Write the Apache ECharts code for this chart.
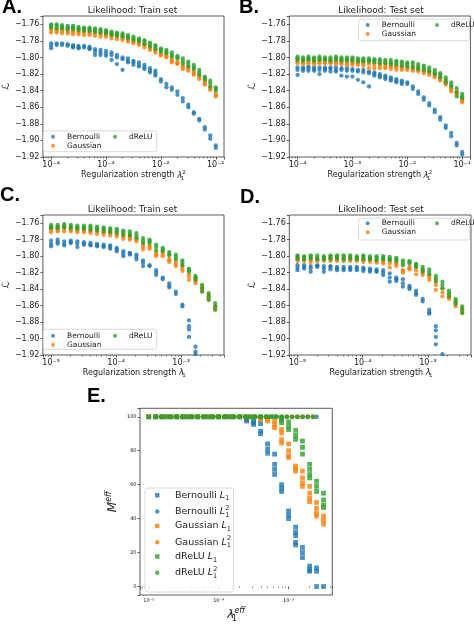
<!DOCTYPE html>
<html><head><meta charset="utf-8">
<script src="https://cdn.jsdelivr.net/npm/echarts@6/dist/echarts.min.js"></script>
<style>html,body{margin:0;padding:0;background:#fff}#c{width:474px;height:624px}</style>
</head><body><div id="c"></div>
<script>
// ---------------- DATA ----------------
// lambda_1^2 grid (panels A, B)
const xAB = [1.00e-4,1.26e-4,1.58e-4,2.00e-4,2.51e-4,3.16e-4,3.98e-4,5.01e-4,6.31e-4,7.94e-4,
  1.00e-3,1.26e-3,1.58e-3,2.00e-3,2.51e-3,3.16e-3,3.98e-3,5.01e-3,6.31e-3,7.94e-3,
  1.00e-2,1.26e-2,1.58e-2,2.00e-2,2.51e-2,3.16e-2,3.98e-2,5.01e-2,6.31e-2,7.94e-2,1.00e-1];
// lambda_1 grid (panels C, D)
const xCD = [1.000e-5,1.262e-5,1.592e-5,2.009e-5,2.535e-5,3.199e-5,4.036e-5,5.093e-5,6.427e-5,8.110e-5,
  1.023e-4,1.291e-4,1.629e-4,2.056e-4,2.594e-4,3.273e-4,4.130e-4,5.212e-4,6.577e-4,8.299e-4,
  1.047e-3,1.321e-3,1.667e-3,2.104e-3,2.655e-3,3.350e-3];
// lambda_1^eff grids (panel E)
const xE_L1 = [1.00e-5,1.26e-5,1.58e-5,2.00e-5,2.51e-5,3.16e-5,3.98e-5,5.01e-5,6.31e-5,7.94e-5,
  1.00e-4,1.26e-4,1.58e-4,2.00e-4,2.51e-4,3.16e-4,3.98e-4,5.01e-4,6.31e-4,7.94e-4,
  1.00e-3,1.26e-3,1.58e-3,2.00e-3,2.51e-3,3.16e-3];
const xE_L2 = [1.259e-5,1.496e-5,1.778e-5,2.113e-5,2.512e-5,2.985e-5,3.548e-5,4.217e-5,5.012e-5,5.957e-5,
  7.079e-5,8.414e-5,1.000e-4,1.189e-4,1.413e-4,1.679e-4,1.995e-4,2.371e-4,2.818e-4,3.350e-4,
  3.981e-4,4.732e-4,5.623e-4,6.683e-4,7.943e-4,9.441e-4,1.122e-3,1.334e-3,1.585e-3,1.884e-3,2.239e-3];
const xE_L2_bern = [1.259e-5,1.496e-5,1.778e-5,2.113e-5,2.512e-5,2.985e-5,3.548e-5,4.217e-5,5.012e-5,5.957e-5,
  7.079e-5,8.414e-5,1.000e-4,1.189e-4,1.413e-4,1.679e-4,1.995e-4,2.371e-4,2.818e-4,3.350e-4,
  3.981e-4,4.732e-4,5.623e-4,6.683e-4,7.943e-4,9.441e-4,1.122e-3,1.334e-3,1.585e-3,1.884e-3,2.239e-3,2.512e-3];

// Panel A (train, lambda_1^2): repeated runs per grid point
const A_bernoulli = [[-1.783,-1.786,-1.789],[-1.783,-1.785],[-1.783,-1.785],[-1.784,-1.786],[-1.785,-1.787,-1.788],
  [-1.786,-1.788,-1.789],[-1.786,-1.788],[-1.787,-1.789,-1.790],[-1.790,-1.793,-1.797],[-1.791,-1.794,-1.797],
  [-1.792,-1.795,-1.798],[-1.794,-1.797,-1.803],[-1.797,-1.800,-1.808],[-1.800,-1.802,-1.815],[-1.801,-1.804,-1.806],
  [-1.804,-1.806,-1.809],[-1.806,-1.809,-1.811],[-1.809,-1.812,-1.814],[-1.813,-1.816,-1.818],[-1.816,-1.819,-1.822],
  [-1.826,-1.829],[-1.832,-1.836],[-1.836,-1.839],[-1.841,-1.845],[-1.849,-1.853],[-1.857,-1.860],[-1.866,-1.868],
  [-1.874,-1.876],[-1.884,-1.887],[-1.894,-1.898],[-1.906,-1.909]];
const A_gaussian = [[-1.765,-1.767,-1.770],[-1.766,-1.768,-1.770],[-1.766,-1.768,-1.771],[-1.767,-1.769,-1.771],[-1.767,-1.769,-1.772],
  [-1.768,-1.770,-1.772],[-1.768,-1.770,-1.773],[-1.769,-1.771,-1.773],[-1.769,-1.771,-1.774],[-1.770,-1.772,-1.775],
  [-1.771,-1.773,-1.775],[-1.772,-1.774,-1.777],[-1.773,-1.775,-1.778],[-1.775,-1.777,-1.779],[-1.777,-1.779,-1.781],
  [-1.779,-1.781,-1.783],[-1.781,-1.783,-1.785],[-1.783,-1.785,-1.788],[-1.787,-1.789,-1.791],[-1.790,-1.792,-1.794],
  [-1.795,-1.796,-1.798],[-1.797,-1.799,-1.800],[-1.802,-1.804,-1.806],[-1.805,-1.807,-1.808],[-1.810,-1.812,-1.814],
  [-1.811,-1.814,-1.816],[-1.817,-1.819,-1.821],[-1.822,-1.824,-1.826],[-1.829,-1.831,-1.833],[-1.836,-1.838,-1.839],
  [-1.844,-1.846,-1.847]];
const A_drelu = [[-1.760,-1.762,-1.764],[-1.760,-1.762,-1.765],[-1.761,-1.763,-1.765],[-1.762,-1.764,-1.766],[-1.762,-1.764,-1.766],
  [-1.763,-1.765,-1.767],[-1.764,-1.766,-1.768],[-1.764,-1.766,-1.768],[-1.765,-1.767,-1.769],[-1.766,-1.768,-1.770],
  [-1.767,-1.769,-1.771],[-1.769,-1.771,-1.773],[-1.770,-1.772,-1.774],[-1.771,-1.773,-1.775],[-1.773,-1.775,-1.777],
  [-1.775,-1.777,-1.779],[-1.777,-1.779,-1.781],[-1.779,-1.781,-1.784],[-1.782,-1.784,-1.787],[-1.785,-1.787,-1.790],
  [-1.789,-1.791,-1.793],[-1.791,-1.793,-1.795],[-1.794,-1.797,-1.799],[-1.798,-1.800,-1.801],[-1.801,-1.804,-1.807],
  [-1.805,-1.808,-1.811],[-1.809,-1.812,-1.814],[-1.815,-1.818,-1.821],[-1.823,-1.825,-1.827],[-1.828,-1.831,-1.835],
  [-1.836,-1.838,-1.840]];

// Panel B (test, lambda_1^2)
const B_bernoulli = [[-1.812,-1.815,-1.821],[-1.812,-1.814,-1.816],[-1.811,-1.813,-1.816],[-1.812,-1.814,-1.816],[-1.812,-1.815,-1.820],
  [-1.812,-1.814,-1.816],[-1.812,-1.814,-1.817],[-1.812,-1.815,-1.817],[-1.813,-1.815,-1.822],[-1.813,-1.816,-1.823],
  [-1.814,-1.816,-1.823],[-1.815,-1.817,-1.827],[-1.815,-1.818,-1.830],[-1.817,-1.819,-1.835],[-1.818,-1.820,-1.822],
  [-1.820,-1.822,-1.824],[-1.822,-1.824,-1.826],[-1.824,-1.826,-1.828],[-1.826,-1.828,-1.830],[-1.828,-1.830,-1.832],
  [-1.830,-1.832],[-1.835,-1.838],[-1.841,-1.844],[-1.848,-1.851],[-1.855,-1.858],[-1.863,-1.866],[-1.872,-1.875],
  [-1.882,-1.885],[-1.891,-1.895],[-1.903,-1.906],[-1.914,-1.917]];
const B_gaussian = [[-1.803,-1.805,-1.807],[-1.804,-1.806,-1.808],[-1.803,-1.805,-1.807],[-1.804,-1.806,-1.808],[-1.803,-1.805,-1.807],
  [-1.803,-1.805,-1.807],[-1.804,-1.806,-1.807],[-1.804,-1.806,-1.808],[-1.804,-1.806,-1.808],[-1.804,-1.806,-1.809],
  [-1.805,-1.807,-1.809],[-1.805,-1.807,-1.809],[-1.805,-1.807,-1.810],[-1.805,-1.808,-1.813],[-1.806,-1.809,-1.813],
  [-1.807,-1.810,-1.813],[-1.808,-1.811,-1.813],[-1.809,-1.811,-1.814],[-1.810,-1.812,-1.815],[-1.811,-1.813,-1.815],
  [-1.811,-1.813,-1.815],[-1.812,-1.814,-1.816],[-1.813,-1.815,-1.817],[-1.815,-1.817,-1.819],[-1.817,-1.819,-1.821],
  [-1.820,-1.822,-1.824],[-1.824,-1.826,-1.828],[-1.829,-1.831,-1.833],[-1.837,-1.839,-1.841],[-1.841,-1.843,-1.845],
  [-1.850,-1.852,-1.854]];
const B_drelu = [[-1.799,-1.801,-1.803],[-1.800,-1.802,-1.804],[-1.799,-1.801,-1.803],[-1.800,-1.802,-1.804],[-1.799,-1.801,-1.803],
  [-1.800,-1.802,-1.803],[-1.800,-1.802,-1.804],[-1.799,-1.801,-1.803],[-1.800,-1.802,-1.804],[-1.800,-1.802,-1.804],
  [-1.800,-1.802,-1.804],[-1.801,-1.803,-1.805],[-1.801,-1.803,-1.805],[-1.801,-1.803,-1.805],[-1.802,-1.804,-1.806],
  [-1.802,-1.804,-1.807],[-1.803,-1.805,-1.807],[-1.803,-1.806,-1.808],[-1.804,-1.806,-1.809],[-1.805,-1.807,-1.810],
  [-1.806,-1.808,-1.811],[-1.806,-1.809,-1.812],[-1.808,-1.811,-1.814],[-1.810,-1.812,-1.815],[-1.812,-1.815,-1.817],
  [-1.815,-1.818,-1.820],[-1.819,-1.821,-1.824],[-1.824,-1.827,-1.830],[-1.830,-1.833,-1.835],[-1.837,-1.842,-1.847],
  [-1.844,-1.847,-1.849]];

// Panel C (train, lambda_1)
const C_bernoulli = [[-1.781,-1.785,-1.788],[-1.780,-1.783,-1.785],[-1.782,-1.785,-1.787],[-1.781,-1.783,-1.784],[-1.782,-1.785,-1.789],
  [-1.783,-1.785,-1.786],[-1.784,-1.786,-1.787],[-1.785,-1.787,-1.788],[-1.786,-1.788,-1.789],[-1.787,-1.789,-1.791],
  [-1.790,-1.792,-1.794],[-1.794,-1.797,-1.800],[-1.796,-1.797,-1.798],[-1.798,-1.801,-1.804],[-1.805,-1.808,-1.812],
  [-1.811,-1.812],[-1.817,-1.820,-1.823],[-1.826,-1.828],[-1.833,-1.836,-1.838],[-1.843,-1.846],[-1.859,-1.861],
  [-1.878,-1.885,-1.889,-1.898],[-1.910,-1.916,-1.919]];
const C_gaussian = [[-1.766,-1.768,-1.771],[-1.766,-1.768,-1.770],[-1.765,-1.767,-1.770],[-1.766,-1.768,-1.770],[-1.767,-1.769,-1.771],
  [-1.767,-1.769,-1.771],[-1.768,-1.770,-1.772],[-1.768,-1.770,-1.773],[-1.769,-1.771,-1.774],[-1.770,-1.772,-1.775],
  [-1.771,-1.774,-1.776],[-1.774,-1.776,-1.779],[-1.776,-1.778,-1.780],[-1.778,-1.780,-1.782],[-1.786,-1.789,-1.792],
  [-1.787,-1.789,-1.791],[-1.796,-1.798,-1.800],[-1.796,-1.798,-1.800],[-1.803,-1.805,-1.807],[-1.807,-1.810,-1.812],
  [-1.812,-1.815,-1.818],[-1.822,-1.825,-1.829],[-1.827,-1.830,-1.833],[-1.837,-1.840,-1.843],[-1.847,-1.850,-1.853],
  [-1.860,-1.862,-1.865]];
const C_drelu = [[-1.762,-1.764,-1.766],[-1.762,-1.764,-1.766],[-1.761,-1.763,-1.765],[-1.762,-1.764,-1.766],[-1.763,-1.765,-1.767],
  [-1.763,-1.765,-1.767],[-1.763,-1.765,-1.768],[-1.764,-1.766,-1.769],[-1.765,-1.767,-1.770],[-1.766,-1.768,-1.771],
  [-1.767,-1.769,-1.772],[-1.769,-1.771,-1.774],[-1.770,-1.773,-1.775],[-1.772,-1.775,-1.778],[-1.778,-1.781,-1.784],
  [-1.780,-1.782,-1.784],[-1.786,-1.789,-1.793],[-1.790,-1.792,-1.794],[-1.795,-1.797,-1.799],[-1.798,-1.801,-1.804],
  [-1.805,-1.808,-1.811],[-1.815,-1.817,-1.819],[-1.824,-1.826,-1.829],[-1.835,-1.839,-1.843],[-1.845,-1.849,-1.853],
  [-1.857,-1.861,-1.865]];

// Panel D (test, lambda_1)
const D_bernoulli = [[-1.811,-1.814,-1.817],[-1.811,-1.813,-1.815],[-1.812,-1.815,-1.819],[-1.811,-1.812,-1.813],[-1.812,-1.815,-1.819],
  [-1.812,-1.813,-1.816],[-1.813,-1.815,-1.817],[-1.813,-1.815,-1.817],[-1.813,-1.815,-1.817],[-1.813,-1.815,-1.817],
  [-1.814,-1.816,-1.818],[-1.815,-1.817,-1.819],[-1.816,-1.818,-1.819],[-1.817,-1.820,-1.823],[-1.821,-1.826,-1.831],
  [-1.826,-1.828,-1.830],[-1.828,-1.833,-1.837],[-1.836,-1.838,-1.840],[-1.842,-1.845,-1.847],[-1.852,-1.855],
  [-1.865,-1.868,-1.870],[-1.885,-1.890,-1.898,-1.907],[-1.919]];
const D_gaussian = [[-1.802,-1.804,-1.806],[-1.802,-1.804,-1.806],[-1.803,-1.805,-1.808],[-1.802,-1.804,-1.806],[-1.802,-1.804,-1.806],
  [-1.802,-1.804,-1.806],[-1.802,-1.804,-1.806],[-1.802,-1.804,-1.806],[-1.802,-1.804,-1.806],[-1.802,-1.804,-1.806],
  [-1.803,-1.805,-1.807],[-1.803,-1.805,-1.807],[-1.804,-1.806,-1.808],[-1.805,-1.807,-1.809],[-1.806,-1.809,-1.814],
  [-1.808,-1.810,-1.812],[-1.817,-1.818,-1.820],[-1.813,-1.815,-1.816],[-1.813,-1.817,-1.822],[-1.817,-1.820,-1.823],
  [-1.823,-1.826,-1.829],[-1.829,-1.835,-1.841],[-1.839,-1.844,-1.849],[-1.847,-1.850,-1.852],[-1.855,-1.858,-1.861],
  [-1.863,-1.866,-1.869]];
const D_drelu = [[-1.799,-1.801,-1.803],[-1.800,-1.802,-1.804],[-1.799,-1.801,-1.803],[-1.799,-1.802,-1.804],[-1.800,-1.802,-1.804],
  [-1.799,-1.801,-1.803],[-1.799,-1.801,-1.803],[-1.799,-1.801,-1.804],[-1.799,-1.801,-1.803],[-1.800,-1.802,-1.804],
  [-1.799,-1.801,-1.804],[-1.800,-1.802,-1.804],[-1.800,-1.802,-1.805],[-1.800,-1.802,-1.804],[-1.801,-1.803,-1.805],
  [-1.802,-1.804,-1.806],[-1.805,-1.808,-1.811],[-1.806,-1.807,-1.809],[-1.809,-1.811,-1.813],[-1.813,-1.816,-1.819],
  [-1.816,-1.819,-1.822],[-1.824,-1.827,-1.831],[-1.831,-1.835,-1.839],[-1.842,-1.845,-1.849],[-1.852,-1.855,-1.858],
  [-1.861,-1.865,-1.869]];

// Panel E: effective number of hidden units
const E_bernoulli_L1 = [[100],[100],[100],[100],[100],[100],[100],[100],[100],[100],[100],[100],[100],[100],
  [98.5,97.5],[97.5,96.5,95.5],[96,91.5,90],[84,81,78.5],[78,72,69,66],[60,58,56],[44.5,42,40],
  [35,32,30,26,24.5],[23,20,17],[12,10,9],[11,9,0],[0]];
const E_gaussian_L1 = [[100],[100],[100],[100],[100],[100],[100],[100],[100],[100],[100],[100],[100],[100],[100],[100],
  [99.4,98.4],[99,97.5],[97.5,95.5,93.5],[92.5,90.5,86.5,84.5],[84,80,77,76],[71,69.5,68],[68,64,61,59],
  [59,55,52,50],[49.5,46,43,41.5],[41.5,39,36.7]];
const E_drelu_L1 = [[100],[100],[100],[100],[100],[100],[100],[100],[100],[100],[100],[100],[100],[100],[100],[100],
  [100],[100],[100],[99.4,98,96.5],[97,94.5,92.5],[92,89,86.7],[85.7,82,78],[72,69,66,64],[62,59,56],[55,51,48,46.5]];
const E_bernoulli_L2 = [100,100,100,100,100,100,100,100,100,100,100,100,100,100,100,100,
  100,100,100,100,100,100,100,100,100,100,100,100,100,100,100,100];
const E_gaussian_L2 = [100,100,100,100,100,100,100,100,100,100,100,100,100,100,100,100,
  100,100,100,100,100,100,100,100,100,100,100,100,100,100,100];
const E_drelu_L2 = [100,100,100,100,100,100,100,100,100,100,100,100,100,100,100,100,
  100,100,100,100,100,100,100,100,100,100,100,100,100,100,100];

// ---------------- CHART ----------------
const FONT = 'DejaVu Sans';
const TXT = '#222';
const COL = {Bernoulli: '#1f77b4', Gaussian: '#ff7f0e', dReLU: '#2ca02c'};

function flatGroups(xs, groups) {
  const out = [];
  groups.forEach((g, k) => g.forEach(v => out.push([xs[k], v])));
  return out;
}
function pairs(xs, ys) { return ys.map((v, k) => [xs[k], v]); }

const supMap = {'-':'⁻','0':'⁰','1':'¹','2':'²','3':'³','4':'⁴','5':'⁵','6':'⁶','7':'⁷','8':'⁸','9':'⁹'};
function supStr(n) { return String(n).split('').map(c => supMap[c]).join(''); }
function logFmt(v) {
  const e = Math.log10(v), r = Math.round(e);
  if (Math.abs(e - r) > 1e-6) return '';
  return '10' + supStr(r);
}
function yFmt(v) {
  const r = Math.round(v * 50);
  if (Math.abs(v * 50 - r) > 1e-6) return '';
  return (r / 50).toFixed(2).replace('-', '\u2212');
}
function eFmt(v) {
  if (Math.abs(v / 20 - Math.round(v / 20)) > 1e-6) return '';
  return String(Math.round(v));
}

const richAxis = {
  n:  {fontSize: 8, fontFamily: FONT, color: TXT, lineHeight: 12},
  it: {fontSize: 8.5, fontFamily: FONT, fontStyle: 'italic', color: TXT, lineHeight: 12},
  sb: {fontSize: 5.5, fontFamily: FONT, color: TXT, verticalAlign: 'bottom', lineHeight: 6, width: 0.1},
  sp: {fontSize: 5.5, fontFamily: FONT, color: TXT, verticalAlign: 'top', lineHeight: 6}
};
const richE = {
  it: {fontSize: 12, fontFamily: FONT, fontStyle: 'italic', color: TXT, lineHeight: 16},
  sb: {fontSize: 8, fontFamily: FONT, color: TXT, verticalAlign: 'bottom', lineHeight: 8, width: 0.1},
  sp: {fontSize: 8, fontFamily: FONT, fontStyle: 'italic', color: TXT, verticalAlign: 'top', lineHeight: 8}
};

const grids = [
  {left: 41, top: 16, width: 183, height: 141},
  {left: 289.3, top: 16, width: 183.5, height: 141},
  {left: 41, top: 215, width: 183, height: 140},
  {left: 289.3, top: 215, width: 183.5, height: 140},
  {left: 140, top: 408.3, width: 192.3, height: 187.7}
].map(g => Object.assign(g, {show: true, borderColor: '#333', borderWidth: 0.8, backgroundColor: '#fff'}));

const tickStyle = {show: true, length: 2.5, lineStyle: {color: '#333', width: 0.8}};
const minorStyle = {show: true, splitNumber: 9, length: 1.5, lineStyle: {color: '#333', width: 0.6}};

function xLog(i, lo, hi, name, fs, gap, rich) {
  return {
    type: 'log', logBase: 10, gridIndex: i, min: Math.pow(10, lo), max: Math.pow(10, hi),
    axisLine: {show: false}, axisTick: tickStyle, minorTick: minorStyle, splitLine: {show: false},
    axisLabel: {formatter: logFmt, fontSize: fs, fontFamily: FONT, color: TXT, margin: 3.5, showMinLabel: true, showMaxLabel: true},
    name: name, nameLocation: 'middle', nameGap: gap, nameTextStyle: {rich: rich}
  };
}
function yLik(i) {
  return {
    type: 'value', gridIndex: i, min: -1.92, max: -1.75, interval: 0.02,
    axisLine: {show: false}, axisTick: tickStyle, splitLine: {show: false},
    axisLabel: {formatter: yFmt, fontSize: 8, fontFamily: FONT, color: TXT, margin: 3.5},
    name: '\u2112', nameLocation: 'middle', nameGap: 26,
    nameTextStyle: {fontSize: 10, fontFamily: FONT, color: TXT}
  };
}

const lamSq = '{n|Regularization strength }{it|\u03bb}{sb|1}{sp|2}';
const lam1 = '{n|Regularization strength }{it|\u03bb}{sb|1}';

const xAxes = [
  xLog(0, -4.15, -0.85, lamSq, 8, 12, richAxis),
  xLog(1, -4.15, -0.85, lamSq, 8, 12, richAxis),
  xLog(2, -5.126, -2.34, lam1, 8, 12, richAxis),
  xLog(3, -5.126, -2.34, lam1, 8, 12, richAxis),
  xLog(4, -5.125, -2.375, '{it|\u03bb}{sb|1}{sp|eff}', 5, 12, richE)
];
const yAxes = [yLik(0), yLik(1), yLik(2), yLik(3), {
  type: 'value', gridIndex: 4, min: -5, max: 105, splitNumber: 5,
  axisLine: {show: false}, axisTick: tickStyle, splitLine: {show: false},
  axisLabel: {formatter: eFmt, fontSize: 5, fontFamily: FONT, color: TXT, margin: 3.5},
  name: '{it|M}{sp|eff}', nameLocation: 'middle', nameGap: 19, nameTextStyle: {rich: richE}
}];

const series = [];
function addPanel(i, xs, b, g, d) {
  [['Bernoulli', b], ['Gaussian', g], ['dReLU', d]].forEach(([nm, arr]) => {
    series.push({type: 'scatter', name: nm, xAxisIndex: i, yAxisIndex: i, symbol: 'circle', symbolSize: 4.3,
      itemStyle: {color: COL[nm]}, data: flatGroups(xs, arr), silent: true, z: 2});
  });
}
addPanel(0, xAB, A_bernoulli, A_gaussian, A_drelu);
addPanel(1, xAB, B_bernoulli, B_gaussian, B_drelu);
addPanel(2, xCD, C_bernoulli, C_gaussian, C_drelu);
addPanel(3, xCD, D_bernoulli, D_gaussian, D_drelu);
[
  ['Bernoulli L1', 'rect', COL.Bernoulli, flatGroups(xE_L1, E_bernoulli_L1)],
  ['Bernoulli L2', 'circle', COL.Bernoulli, pairs(xE_L2_bern, E_bernoulli_L2)],
  ['Gaussian L1', 'rect', COL.Gaussian, flatGroups(xE_L1, E_gaussian_L1)],
  ['Gaussian L2', 'circle', COL.Gaussian, pairs(xE_L2, E_gaussian_L2)],
  ['dReLU L1', 'rect', COL.dReLU, flatGroups(xE_L1, E_drelu_L1)],
  ['dReLU L2', 'circle', COL.dReLU, pairs(xE_L2, E_drelu_L2)]
].forEach(([nm, sym, c, data]) => {
  series.push({type: 'scatter', name: nm, xAxisIndex: 4, yAxisIndex: 4, symbol: sym, symbolSize: 4.8,
    itemStyle: {color: c}, data: data, silent: true, z: 2});
});

const legText = {fontSize: 7.5, fontFamily: FONT, color: TXT, lineHeight: 9};
// legend "left" is the icon's left edge (the group box starts at the drawn icon)
function leg(names, left, top) {
  return {data: names, orient: 'vertical', left: left, top: top, padding: 0, itemGap: 0,
    itemWidth: 18, itemHeight: 4, icon: 'circle', selectedMode: false, textStyle: legText, z: 10};
}
const SQ = 'path://M0,0L1,0L1,1L0,1Z';
const legends = [
  leg(['Bernoulli', 'Gaussian'], 51, 132.2), leg(['dReLU'], 113, 132.2),
  leg(['Bernoulli', 'Gaussian'], 365.7, 20.5), leg(['dReLU'], 435, 20.5),
  leg(['Bernoulli', 'Gaussian'], 51, 331.2), leg(['dReLU'], 113, 331.2),
  leg(['Bernoulli', 'Gaussian'], 365.7, 218.8), leg(['dReLU'], 435, 218.8),
  {
    data: [{name: 'Bernoulli L1', icon: SQ}, {name: 'Bernoulli L2', icon: 'circle'},
           {name: 'Gaussian L1', icon: SQ}, {name: 'Gaussian L2', icon: 'circle'},
           {name: 'dReLU L1', icon: SQ}, {name: 'dReLU L2', icon: 'circle'}],
    orient: 'vertical', left: 155, top: 490.3, padding: 0, itemGap: 2.3, itemWidth: 25.4, itemHeight: 4.5,
    symbolKeepAspect: true, selectedMode: false, z: 10,
    formatter: function (name) {
      const parts = name.split(' ');
      return '{n|' + parts[0] + ' }{it|L}' + (parts[1] === 'L1' ? '{sb|1}' : '{sb|1}{sp|2}');
    },
    textStyle: {fontSize: 9.5, fontFamily: FONT, color: TXT, rich: {
      n: {fontSize: 9.5, fontFamily: FONT, color: TXT, lineHeight: 14},
      it: {fontSize: 9.5, fontFamily: FONT, fontStyle: 'italic', color: TXT, lineHeight: 14},
      sb: {fontSize: 6.5, fontFamily: FONT, color: TXT, verticalAlign: 'bottom', lineHeight: 7, width: 0.1},
      sp: {fontSize: 6.5, fontFamily: FONT, color: TXT, verticalAlign: 'top', lineHeight: 7}
    }}
  }
];

function frame(x, y, w, h) {
  return {type: 'rect', shape: {x: x, y: y, width: w, height: h, r: 2}, silent: true, z: 5,
    style: {fill: 'rgba(255,255,255,0.8)', stroke: '#cfcfcf', lineWidth: 0.8}};
}
const graphics = [
  frame(43.3, 131, 113.4, 20.7), frame(358.7, 19, 110.6, 21.7),
  frame(43.3, 329.3, 113.4, 20), frame(358.7, 218.3, 110.6, 21.7),
  frame(145, 488, 88.3, 104)
];

const tStyle = {fontSize: 9, fontWeight: 'normal', fontFamily: FONT, color: TXT};
const lStyle = {fontSize: 20, fontWeight: 'bold', fontFamily: 'Liberation Sans', color: '#000'};
const titles = [
  {text: 'Likelihood: Train set', left: 132.5, top: 6, textAlign: 'center', padding: 0, textStyle: tStyle},
  {text: 'Likelihood: Test set', left: 381, top: 6, textAlign: 'center', padding: 0, textStyle: tStyle},
  {text: 'Likelihood: Train set', left: 132.5, top: 205, textAlign: 'center', padding: 0, textStyle: tStyle},
  {text: 'Likelihood: Test set', left: 381, top: 205, textAlign: 'center', padding: 0, textStyle: tStyle},
  {text: 'A.', left: 2, top: -3, padding: 0, textStyle: lStyle},
  {text: 'B.', left: 239, top: -3, padding: 0, textStyle: lStyle},
  {text: 'C.', left: 0, top: 185, padding: 0, textStyle: lStyle},
  {text: 'D.', left: 240, top: 187, padding: 0, textStyle: lStyle},
  {text: 'E.', left: 87, top: 386, padding: 0, textStyle: lStyle}
];

const chart = echarts.init(document.getElementById('c'), null, {renderer: 'canvas'});
chart.setOption({
  animation: false,
  backgroundColor: '#fff',
  title: titles,
  grid: grids,
  xAxis: xAxes,
  yAxis: yAxes,
  legend: legends,
  graphic: graphics,
  series: series
});
</script></body></html>
